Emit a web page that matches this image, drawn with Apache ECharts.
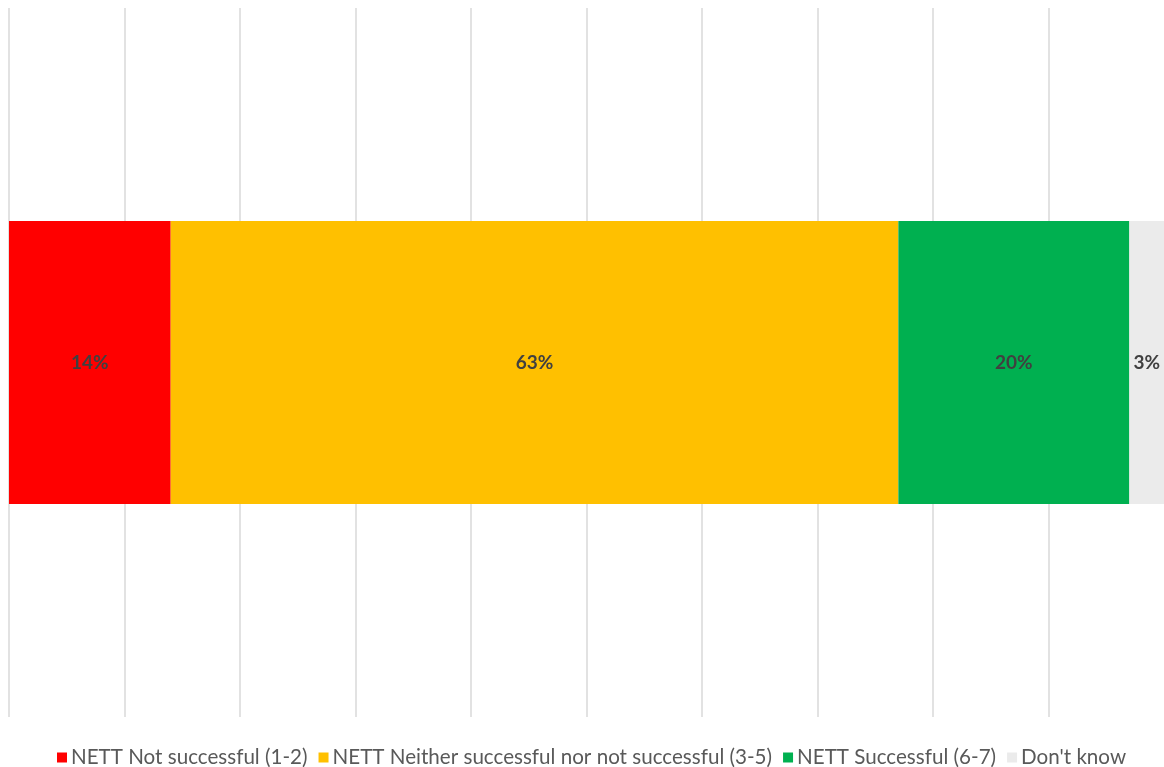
<!DOCTYPE html>
<html>
<head>
<meta charset="utf-8">
<script src="https://cdn.jsdelivr.net/npm/echarts@6/dist/echarts.min.js"></script>
<style>
  html, body { margin: 0; padding: 0; background: #ffffff; }
  #chart { width: 1164px; height: 767px; }
</style>
</head>
<body>
<div id="chart"></div>
<script>
// Survey response shares (percent of respondents)
const categories = ['Overall'];
const seriesNames = [
  'NETT Not successful (1-2)',
  'NETT Neither successful nor not successful (3-5)',
  'NETT Successful (6-7)',
  "Don't know"
];
const notSuccessful = [14];
const neither = [63];
const successful = [20];
const dontKnow = [3];
const seriesColors = ['#FF0000', '#FFC000', '#00B050', '#EBEBEB'];

const valueSets = [notSuccessful, neither, successful, dontKnow];

const chart = echarts.init(document.getElementById('chart'), null, { renderer: 'canvas' });

const series = seriesNames.map((name, i) => ({
  name: name,
  type: 'bar',
  stack: 'total',
  data: valueSets[i],
  barWidth: 283,
  itemStyle: { color: seriesColors[i] },
  label: {
    show: true,
    position: 'inside',
    formatter: p => p.value + '%',
    color: '#404040',
    fontWeight: 'bold',
    fontSize: 19,
    fontFamily: 'Lato, "Open Sans", sans-serif'
  },
  emphasis: { disabled: true }
}));

chart.setOption({
  animation: false,
  grid: { left: 9, right: 0, top: 8, bottom: 50, containLabel: false },
  legend: {
    top: 742,
    left: 52,
    itemWidth: 10,
    itemHeight: 10,
    itemGap: 11,
    icon: 'rect',
    textStyle: {
      color: '#595959',
      fontSize: 20.6,
      fontFamily: 'Lato, "Open Sans", sans-serif',
      padding: [0, 0, 0, -1]
    },
    data: seriesNames
  },
  xAxis: {
    type: 'value',
    min: 0,
    max: 100,
    interval: 10,
    axisLine: { show: false },
    axisTick: { show: false },
    axisLabel: { show: false },
    splitLine: { show: true, showMaxLine: false, lineStyle: { color: '#D9D9D9', width: 1.5 } }
  },
  yAxis: {
    type: 'category',
    data: categories,
    axisLine: { show: false },
    axisTick: { show: false },
    axisLabel: { show: false }
  },
  series: series
});
</script>
</body>
</html>
